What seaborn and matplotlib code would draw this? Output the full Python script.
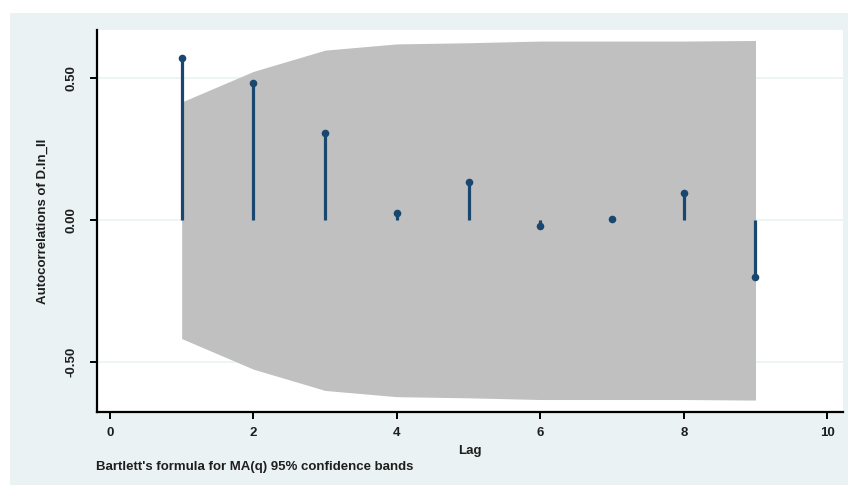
import matplotlib
matplotlib.use('Agg')
import matplotlib.pyplot as plt
import matplotlib.patches as mpatches
import seaborn as sns
import pandas as pd

# autocorrelations
lags = [1, 2, 3, 4, 5, 6, 7, 8, 9]
acf = [0.572, 0.484, 0.307, 0.025, 0.134, -0.021, 0.006, 0.095, -0.200]
# Bartlett 95% band (upper edge, band is symmetric)
band = [0.417, 0.525, 0.600, 0.622, 0.626, 0.632, 0.632, 0.632, 0.634]

xticks = [0, 2, 4, 6, 8, 10]
yticks = [-0.5, 0.0, 0.5]
ytick_labels = ['-0.50', '0.00', '0.50']

df = pd.DataFrame({'lag': lags, 'ac': acf})

sns.set_theme(style='white')
plt.rcParams['font.family'] = ['Liberation Sans', 'DejaVu Sans']

stata_blue = '#1a476f'
region = '#eaf2f3'
txt = '#1e1e1e'

fig = plt.figure(figsize=(8.55, 4.9), dpi=100)
fig.patch.set_facecolor('white')
fig.patches.append(mpatches.Rectangle((10 / 855, 5 / 490), 838 / 855, 472 / 490,
                                      transform=fig.transFigure, facecolor=region,
                                      edgecolor='none', zorder=-5))
ax = fig.add_axes([97 / 855, 78 / 490, 746 / 855, 382 / 490])
ax.set_zorder(2)
ax.set_facecolor('white')

for t in yticks:
	ax.axhline(t, color=region, lw=1.2, zorder=0)

ax.fill_between(lags, [-b for b in band], band, color='#c0c0c0', lw=0, zorder=1)
ax.vlines(df['lag'], 0, df['ac'], color=stata_blue, lw=2.3, zorder=2)
sns.scatterplot(data=df, x='lag', y='ac', ax=ax, color=stata_blue, s=30,
				edgecolor=stata_blue, linewidth=0, zorder=3)

ax.set_xlim(-0.18, 10.22)
ax.set_ylim(-0.676, 0.671)
ax.set_xticks(xticks)
ax.set_xticklabels([str(t) for t in xticks], fontsize=9.5, fontweight='bold')
ax.set_yticks(yticks)
ax.set_yticklabels(ytick_labels, fontsize=9.5, fontweight='bold', rotation=90, va='center')

for side in ['top', 'right']:
	ax.spines[side].set_visible(False)
for side in ['left', 'bottom']:
	ax.spines[side].set_color('black')
	ax.spines[side].set_linewidth(1.6)
ax.tick_params(axis='both', direction='out', length=5, width=1.4, color='black',
			   labelcolor=txt, bottom=True, left=True)
ax.tick_params(axis='x', pad=6)
ax.tick_params(axis='y', pad=9)

ax.set_xlabel('Lag', fontsize=9.5, fontweight='bold', color=txt, labelpad=4)
ax.set_ylabel('Autocorrelations of D.ln_II', fontsize=9.5, fontweight='bold',
			  color=txt, labelpad=12)

fig.text(96 / 855, 1 - 467 / 490, "Bartlett's formula for MA(q) 95% confidence bands",
		 fontsize=9.5, fontweight='bold', color=txt, va='center', ha='left')

fig.savefig('out.png', dpi=100, facecolor=fig.get_facecolor())
